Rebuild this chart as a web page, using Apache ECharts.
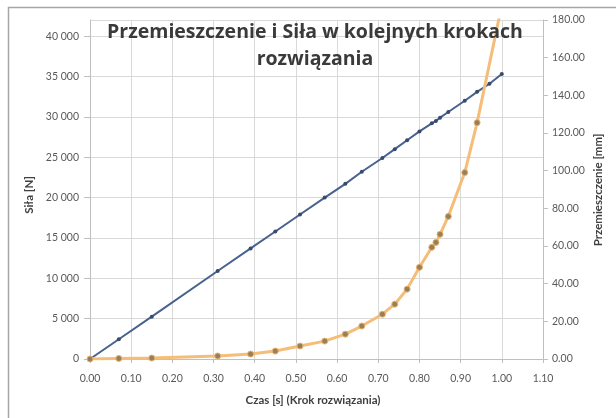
<!DOCTYPE html>
<html>
<head>
<meta charset="utf-8">
<script src="https://cdn.jsdelivr.net/npm/echarts@6/dist/echarts.min.js"></script>
<style>
html,body{margin:0;padding:0;background:#fff;}
#chart{width:616px;height:418px;}
</style>
</head>
<body>
<div id="chart"></div>
<script>
// Time steps [s] for the force series
var forceTimes = [0, 0.07, 0.15, 0.31, 0.39, 0.45, 0.51, 0.57, 0.62, 0.66, 0.71, 0.74, 0.77, 0.80, 0.83, 0.84, 0.85, 0.87, 0.91, 0.94, 0.97, 1.0];
// Siła [N]
var forceValues = [0, 2450, 5250, 10900, 13700, 15800, 17900, 20000, 21700, 23200, 24900, 26000, 27100, 28200, 29200, 29500, 29900, 30600, 32000, 33100, 34100, 35300];
// Time steps [s] for the displacement series
var dispTimes = [0, 0.07, 0.15, 0.31, 0.39, 0.45, 0.51, 0.57, 0.62, 0.66, 0.71, 0.74, 0.77, 0.80, 0.83, 0.84, 0.85, 0.87, 0.91, 0.94, 1.0];
// Przemieszczenie [mm]
var dispValues = [0, 0.3, 0.5, 1.6, 2.6, 4.2, 6.9, 9.5, 13.2, 17.5, 23.8, 29.1, 37.1, 48.7, 59.3, 61.9, 66.2, 75.7, 99.0, 125.5, 188];

var titleText = 'Przemieszczenie i Siła w kolejnych krokach\nrozwiązania';
var xName = 'Czas [s] (Krok rozwiązania)';
var yLeftName = 'Siła [N]';
var yRightName = 'Przemieszczenie [mm]';

var forceData = forceTimes.map(function (t, i) { return [t, forceValues[i]]; });
var dispData = dispTimes.map(function (t, i) { return [t, dispValues[i]]; });

var labelColor = '#595959';
var gridColor = '#d9d9d9';
var font = 'Lato, "Open Sans", sans-serif';

var chart = echarts.init(document.getElementById('chart'), null, {renderer: 'canvas'});
chart.setOption({
  animation: false,
  backgroundColor: '#fff',
  grid: {left: 90, right: 73, top: 20, bottom: 59, containLabel: false},
  xAxis: {
    type: 'value', min: 0, max: 1.1, interval: 0.1,
    axisLine: {show: true, lineStyle: {color: '#bfbfbf'}},
    axisTick: {show: true, lineStyle: {color: '#bfbfbf'}, length: 4},
    axisLabel: {color: labelColor, fontFamily: font, fontSize: 10.5, margin: 14,
      formatter: function (v) { return v.toFixed(2); }},
    splitLine: {show: true, lineStyle: {color: gridColor}}
  },
  yAxis: [{
    type: 'value', min: 0, max: 42000, interval: 5000, position: 'left',
    axisLine: {show: true, lineStyle: {color: '#bfbfbf'}},
    axisTick: {show: true, lineStyle: {color: '#bfbfbf'}, length: 6},
    axisLabel: {color: labelColor, fontFamily: font, fontSize: 10.5, margin: 11, showMaxLabel: false,
      formatter: function (v) { return v === 0 ? '0' : String(v).replace(/\B(?=(\d{3})+(?!\d))/g, ' '); }},
    splitLine: {show: true, lineStyle: {color: gridColor}}
  }, {
    type: 'value', min: 0, max: 180, interval: 20, position: 'right',
    axisLine: {show: true, lineStyle: {color: '#bfbfbf'}},
    axisTick: {show: true, lineStyle: {color: '#bfbfbf'}, length: 5},
    axisLabel: {color: labelColor, fontFamily: font, fontSize: 10.5, margin: 9,
      formatter: function (v) { return v.toFixed(2); }},
    splitLine: {show: false}
  }],
  series: [{
    name: yLeftName, type: 'line', yAxisIndex: 0, data: forceData,
    symbol: 'circle', symbolSize: 4, clip: true,
    lineStyle: {color: '#47628f', width: 2},
    itemStyle: {color: '#384b6d'}
  }, {
    name: yRightName, type: 'line', yAxisIndex: 1, data: dispData,
    symbol: 'circle', symbolSize: 6, clip: true,
    lineStyle: {color: '#f5bd78', width: 3},
    itemStyle: {color: '#95805a', borderColor: '#ebb069', borderWidth: 1}
  }],
  graphic: [
    {type: 'rect', left: 6, top: 5, shape: {width: 640, height: 440},
      style: {fill: 'none', stroke: '#a6a6a6', lineWidth: 1.5}, silent: true},
    {type: 'text', x: 315, y: 46, z: 10,
      style: {text: titleText, fill: '#3a3a3a', font: 'bold 19.5px "Open Sans", sans-serif', lineHeight: 27, align: 'center', verticalAlign: 'middle'}},
    {type: 'text', x: 313, y: 400,
      style: {text: xName, fill: '#404040', font: 'bold 11.5px ' + font, align: 'center', verticalAlign: 'middle'}},
    {type: 'text', x: 29, y: 195, rotation: Math.PI / 2,
      style: {text: yLeftName, fill: '#404040', font: 'bold 11.5px ' + font, align: 'center', verticalAlign: 'middle'}},
    {type: 'text', x: 598, y: 190, rotation: Math.PI / 2,
      style: {text: yRightName, fill: '#404040', font: 'bold 11.5px ' + font, align: 'center', verticalAlign: 'middle'}}
  ]
});
</script>
</body>
</html>
